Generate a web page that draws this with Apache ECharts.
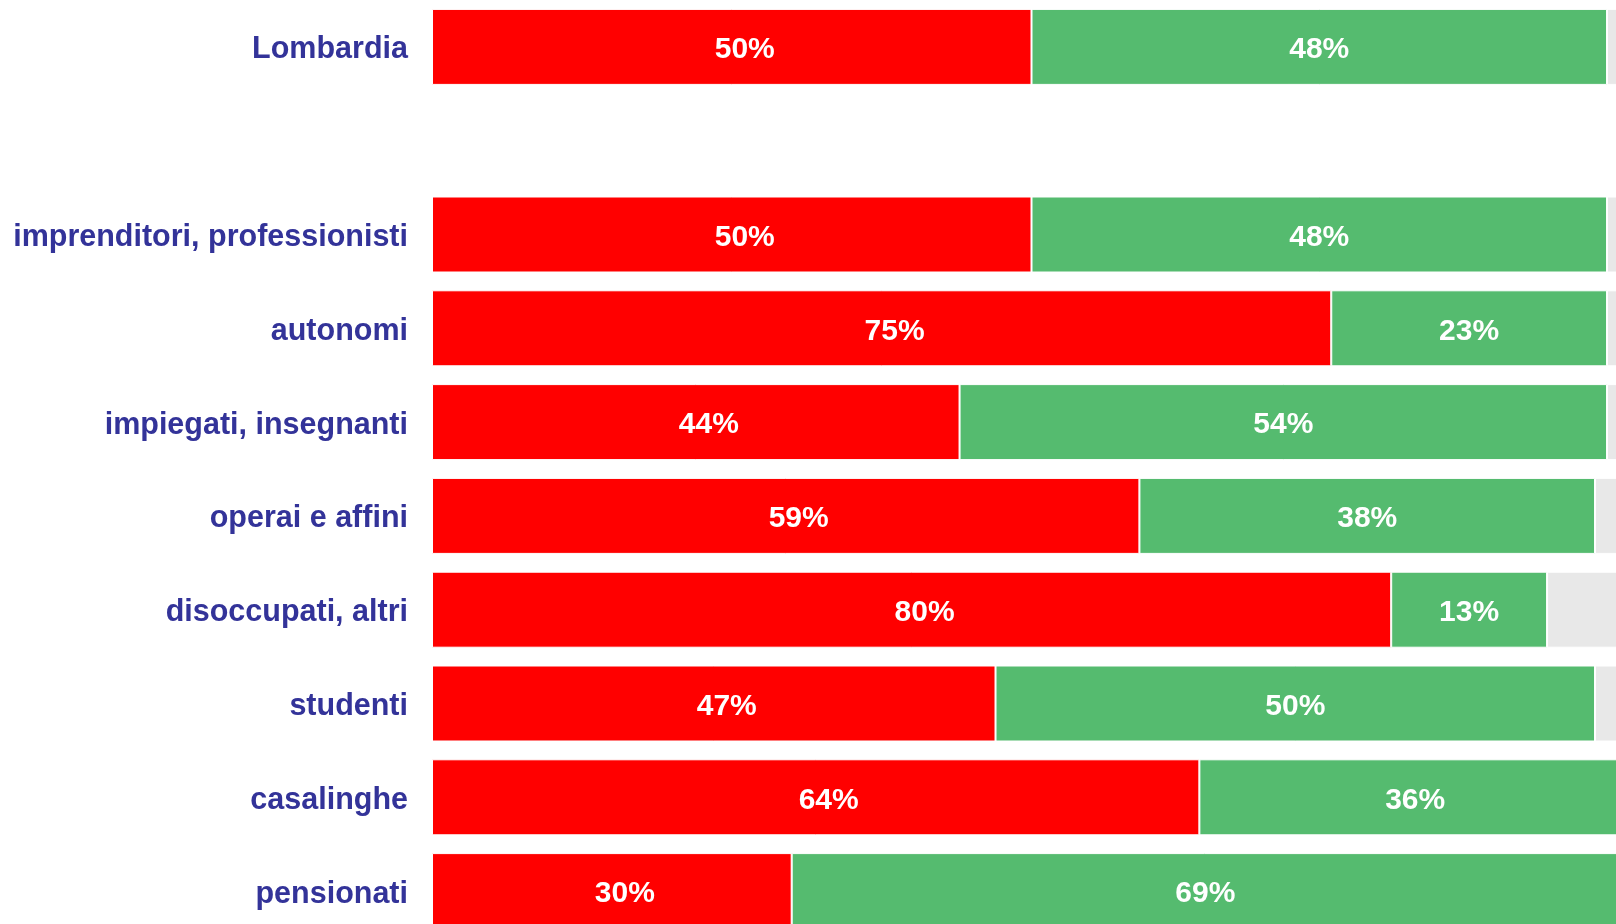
<!DOCTYPE html>
<html>
<head>
<meta charset="utf-8">
<script src="https://cdn.jsdelivr.net/npm/echarts@6/dist/echarts.min.js"></script>
<style>html,body{margin:0;padding:0;background:#fff;}#c{width:1616px;height:924px;}</style>
</head>
<body>
<div id="c"></div>
<script>
const categories = ['Lombardia', '', 'imprenditori, professionisti', 'autonomi', 'impiegati, insegnanti', 'operai e affini', 'disoccupati, altri', 'studenti', 'casalinghe', 'pensionati'];
const redValues   = [50, null, 50, 75, 44, 59, 80, 47, 64, 30];
const greenValues = [48, null, 48, 23, 54, 38, 13, 50, 36, 69];
const greyValues  = [2, null, 2, 2, 2, 3, 7, 3, 0, 1];

const chart = echarts.init(document.getElementById('c'));
const labelStyle = (dx) => ({
  show: true, position: 'inside', offset: [dx, 3], color: '#ffffff', fontSize: 30, fontWeight: 'bold',
  fontFamily: 'Liberation Sans, Arial, sans-serif', formatter: p => p.value + '%'
});
const mk = (name, data, color, label, dx) => ({
  name, type: 'bar', stack: 'all', data, barWidth: 76,
  itemStyle: { color, borderColor: '#ffffff', borderWidth: 1 },
  label: label ? labelStyle(dx) : { show: false },
  emphasis: { disabled: true }
});
const catFont = { color: '#333399', fontSize: 30.5, fontWeight: 'bold', fontFamily: 'Liberation Sans, Arial, sans-serif' };
chart.setOption({
  animation: false,
  grid: { left: 432, top: 0, width: 1199, height: 938, outerBoundsMode: 'none', containLabel: false },
  xAxis: { type: 'value', min: 0, max: 100, show: false },
  yAxis: {
    type: 'category', data: categories, inverse: true,
    axisLine: { show: false }, axisTick: { show: false },
    axisLabel: Object.assign({
      margin: 24,
      formatter: v => v ? '{a|' + v + '}' : '',
      rich: { a: Object.assign({ padding: [6, 0, 0, 0] }, catFont) }
    }, catFont)
  },
  series: [
    mk('red', redValues, '#ff0000', true, 13),
    mk('green', greenValues, '#55bb6f', true, 0),
    mk('grey', greyValues, '#e8e8e8', false, 0)
  ]
});
</script>
</body>
</html>
